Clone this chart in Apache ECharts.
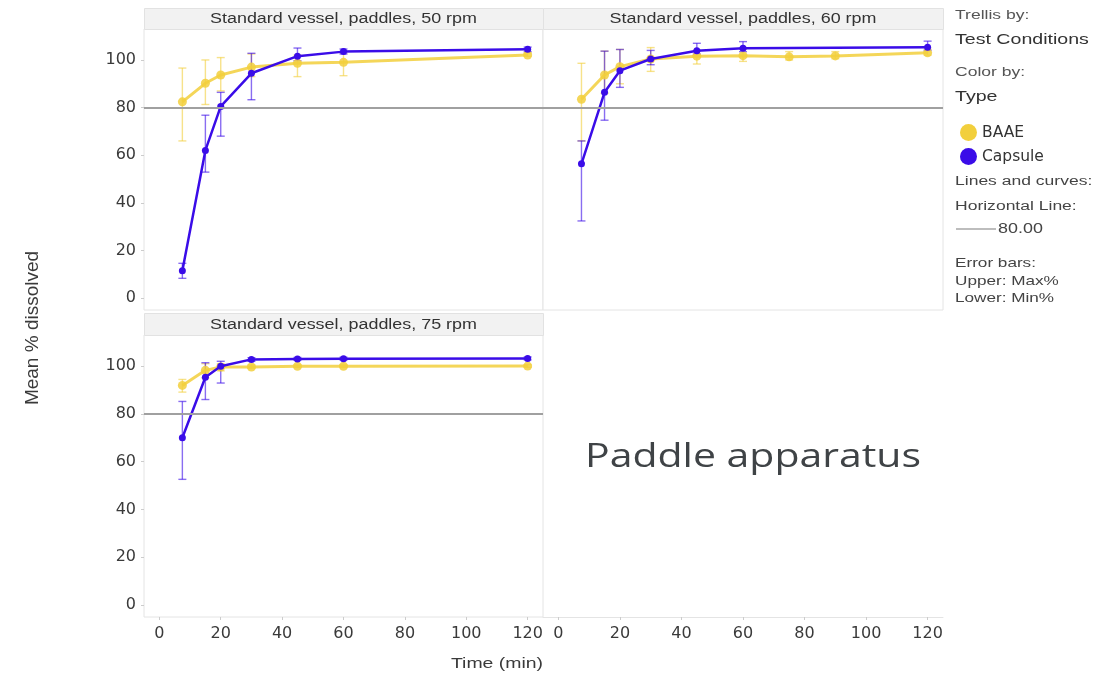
<!DOCTYPE html>
<html>
<head>
<meta charset="utf-8">
<title>Paddle apparatus</title>
<script src="https://cdn.jsdelivr.net/npm/echarts@6/dist/echarts.min.js"></script>
<style>
  html, body { margin: 0; padding: 0; background: #fff; }
  #main { width: 1099px; height: 677px; }
</style>
</head>
<body>
<div id="main"></div>
<script>
  // panel titles (trellis by test conditions)
  var panelTitles = ['Standard vessel, paddles, 50 rpm', 'Standard vessel, paddles, 60 rpm', 'Standard vessel, paddles, 75 rpm'];
  var xTicks = [0, 20, 40, 60, 80, 100, 120];
  var yTicks = [0, 20, 40, 60, 80, 100];
  var refLine = 80;

  // 50 rpm
  var baaeTime50 = [7.5, 15, 20, 30, 45, 60, 120];
  var baae50 = [82.4, 90.2, 93.7, 97, 98.6, 99, 102.1];
  var baae50Max = [96.6, 100, 101, 102.5, 102, 103, 103];
  var baae50Min = [66, 81.3, 87, 93, 93, 93.4, 101.5];
  var capsTime50 = [7.5, 15, 20, 30, 45, 60, 120];
  var caps50 = [11.5, 62, 80.5, 94.4, 101.6, 103.5, 104.5];
  var caps50Max = [14.6, 76.8, 86.4, 102.8, 105, 104.6, 105.4];
  var caps50Min = [8.3, 52.9, 68, 83.3, 99.7, 102.5, 103.5];

  // 60 rpm
  var baaeTime60 = [7.5, 15, 20, 30, 45, 60, 75, 90, 120];
  var baae60 = [83.5, 93.7, 97.2, 100.4, 101.6, 101.8, 101.3, 101.7, 103];
  var baae60Max = [98.6, 103.7, 104.4, 105.2, 104, 104.5, 103.5, 103.5, 104.5];
  var baae60Min = [66, 86, 90, 95.2, 98.3, 99.4, 100, 100.5, 102];
  var capsTime60 = [7.5, 15, 20, 30, 45, 60, 120];
  var caps60 = [56.4, 86.4, 95.5, 100.4, 103.9, 104.9, 105.3];
  var caps60Max = [66, 103.7, 104.4, 104, 107, 107.7, 107.9];
  var caps60Min = [32.4, 74.7, 88.5, 98, 102.5, 103.5, 104];

  // 75 rpm
  var baaeTime75 = [7.5, 15, 20, 30, 45, 60, 120];
  var baae75 = [91.9, 98.2, 99.6, 99.6, 99.9, 99.9, 100];
  var baae75Max = [94.4, 101, 101, 100.5, 100.5, 100.5, 100.6];
  var baae75Min = [89.1, 95, 98, 99, 99.4, 99.4, 99.5];
  var capsTime75 = [7.5, 15, 20, 30, 45, 60, 120];
  var caps75 = [70, 95.3, 99.9, 102.8, 103, 103.1, 103.2];
  var caps75Max = [85.2, 101.4, 102, 103.5, 103.6, 103.7, 103.8];
  var caps75Min = [52.6, 86, 92.9, 102, 102.4, 102.5, 102.6];

  var YELLOW = '#f2cf3c';
  var BLUE = '#3a0ce8';
  var FONT = 'DejaVu Sans';
  var SX = 1.28; // the source picture is stretched sideways

  function zip(t, v) {
    return t.map(function (x, i) { return [x, v[i]]; });
  }
  function zipErr(t, lo, hi) {
    return t.map(function (x, i) { return [x, lo[i], hi[i]]; });
  }

  // error bar: vertical line with small caps
  function errorItem(color) {
    return function (params, api) {
      var x = api.value(0);
      var lo = api.coord([x, api.value(1)]);
      var hi = api.coord([x, api.value(2)]);
      var w = 4;
      var st = { stroke: color, lineWidth: 1.4, opacity: 0.6 };
      return {
        type: 'group',
        children: [
          { type: 'line', shape: { x1: lo[0], y1: lo[1], x2: hi[0], y2: hi[1] }, style: st },
          { type: 'line', shape: { x1: lo[0] - w, y1: lo[1], x2: lo[0] + w, y2: lo[1] }, style: st },
          { type: 'line', shape: { x1: hi[0] - w, y1: hi[1], x2: hi[0] + w, y2: hi[1] }, style: st }
        ]
      };
    };
  }

  function panelSeries(idx, bT, b, bMin, bMax, cT, c, cMin, cMax) {
    return [
      {
        type: 'custom', name: 'BAAE', xAxisIndex: idx, yAxisIndex: idx,
        renderItem: errorItem(YELLOW), data: zipErr(bT, bMin, bMax),
        encode: { x: 0, y: [1, 2] }, itemStyle: { color: YELLOW }, z: 1, silent: true
      },
      {
        type: 'custom', name: 'Capsule', xAxisIndex: idx, yAxisIndex: idx,
        renderItem: errorItem(BLUE), data: zipErr(cT, cMin, cMax),
        encode: { x: 0, y: [1, 2] }, itemStyle: { color: BLUE }, z: 1, silent: true
      },
      {
        type: 'line', name: 'BAAE', xAxisIndex: idx, yAxisIndex: idx,
        data: zip(bT, b), symbol: 'circle', symbolSize: 9,
        lineStyle: { color: YELLOW, width: 3, opacity: 0.85 },
        itemStyle: { color: YELLOW, opacity: 0.85 }, z: 3,
        markLine: {
          silent: true, symbol: 'none', label: { show: false },
          lineStyle: { color: '#a0a0a0', width: 2, type: 'solid' },
          data: [{ yAxis: refLine }]
        }
      },
      {
        type: 'line', name: 'Capsule', xAxisIndex: idx, yAxisIndex: idx,
        data: zip(cT, c), symbol: 'circle', symbolSize: 7,
        lineStyle: { color: BLUE, width: 2.5 },
        itemStyle: { color: BLUE }, z: 4
      }
    ];
  }

  function xAxis(idx, showLabels) {
    return {
      type: 'value', gridIndex: idx, min: -5, max: 125,
      axisLine: { show: idx === 3, onZero: false, lineStyle: { color: '#e4e4e4' } },
      splitLine: { show: false },
      axisTick: { show: showLabels, length: 3, customValues: xTicks, lineStyle: { color: '#cccccc' } },
      axisLabel: { show: showLabels, customValues: xTicks, margin: 9, color: '#3a3a3a', fontFamily: FONT, fontSize: 16 }
    };
  }
  function yAxis(idx, showLabels, visible) {
    return {
      type: 'value', gridIndex: idx, min: -5, max: 113, show: visible !== false,
      axisLine: { show: false, onZero: false },
      splitLine: { show: false },
      axisTick: { show: showLabels, length: 3, customValues: yTicks, lineStyle: { color: '#cccccc' } },
      axisLabel: { show: showLabels, customValues: yTicks, margin: 8, color: '#3a3a3a', fontFamily: FONT, fontSize: 16 }
    };
  }

  var gridStyle = { show: true, borderColor: '#e4e4e4', borderWidth: 1, backgroundColor: '#fff' };

  var strips = [
    { x: 144, y: 8, w: 399, h: 21 },
    { x: 543, y: 8, w: 400, h: 21 },
    { x: 144, y: 313, w: 399, h: 22 }
  ];
  var graphics = [];
  strips.forEach(function (s, i) {
    graphics.push({
      type: 'rect', left: s.x, top: s.y, silent: true,
      shape: { width: s.w, height: s.h },
      style: { fill: '#f2f2f2', stroke: '#e2e2e2', lineWidth: 1 }
    });
    graphics.push({
      type: 'text', x: s.x + s.w / 2, y: s.y + s.h / 2 + 1, scaleX: SX, silent: true,
      style: { text: panelTitles[i], fill: '#333', font: '14px "Liberation Sans"', align: 'center', verticalAlign: 'middle' }
    });
  });

  // side legend texts
  var sideText = [
    { t: 'Trellis by:', y: 15, s: 13.7, c: '#555' },
    { t: 'Test Conditions', y: 40, s: 15.3, c: '#333' },
    { t: 'Color by:', y: 72, s: 13.7, c: '#555' },
    { t: 'Type', y: 97, s: 15.3, c: '#333' },
    { t: 'Lines and curves:', y: 181, s: 13.7, c: '#444' },
    { t: 'Horizontal Line:', y: 206, s: 13.7, c: '#444' },
    { t: 'Error bars:', y: 263, s: 13.4, c: '#444' },
    { t: 'Upper: Max%', y: 281, s: 13.4, c: '#444' },
    { t: 'Lower: Min%', y: 298, s: 13.4, c: '#444' }
  ];
  sideText.forEach(function (d) {
    graphics.push({
      type: 'text', x: 955, y: d.y, scaleX: SX, silent: true,
      style: { text: d.t, fill: d.c, font: d.s + 'px "Liberation Sans"', verticalAlign: 'middle' }
    });
  });
  graphics.push({
    type: 'line', silent: true,
    shape: { x1: 956, y1: 229, x2: 996, y2: 229 },
    style: { stroke: '#bdbdbd', lineWidth: 2 }
  });
  graphics.push({
    type: 'text', x: 998, y: 229, scaleX: SX, silent: true,
    style: { text: refLine.toFixed(2), fill: '#444', font: '14px "Liberation Sans"', verticalAlign: 'middle' }
  });
  // axis names
  graphics.push({
    type: 'text', x: 33, y: 328, rotation: Math.PI / 2, silent: true,
    style: { text: 'Mean % dissolved', fill: '#3a3a3a', font: '19px "Liberation Sans"', align: 'center', verticalAlign: 'middle' }
  });
  graphics.push({
    type: 'text', x: 497, y: 664, scaleX: SX, silent: true,
    style: { text: 'Time (min)', fill: '#3a3a3a', font: '15.2px "Liberation Sans"', align: 'center', verticalAlign: 'middle' }
  });
  graphics.push({
    type: 'text', x: 753, y: 458, scaleX: SX, silent: true,
    style: { text: 'Paddle apparatus', fill: '#3f4346', font: '32px "Open Sans"', align: 'center', verticalAlign: 'middle' }
  });

  var option = {
    animation: false,
    backgroundColor: '#fff',
    legend: {
      data: ['BAAE', 'Capsule'],
      orient: 'vertical', left: 955, top: 119,
      icon: 'circle', itemWidth: 17, itemHeight: 17, itemGap: 7,
      textStyle: { fontFamily: FONT, fontSize: 15.5, color: '#333' },
      selectedMode: false
    },
    grid: [
      Object.assign({ left: 144, top: 29, width: 399, height: 281 }, gridStyle),
      Object.assign({ left: 543, top: 29, width: 400, height: 281 }, gridStyle),
      Object.assign({ left: 144, top: 335, width: 399, height: 282 }, gridStyle),
      { left: 543, top: 335, width: 400, height: 282, show: false }
    ],
    xAxis: [xAxis(0, false), xAxis(1, false), xAxis(2, true), xAxis(3, true)],
    yAxis: [yAxis(0, true), yAxis(1, false), yAxis(2, true), yAxis(3, false, false)],
    graphic: graphics,
    series: [].concat(
      panelSeries(0, baaeTime50, baae50, baae50Min, baae50Max, capsTime50, caps50, caps50Min, caps50Max),
      panelSeries(1, baaeTime60, baae60, baae60Min, baae60Max, capsTime60, caps60, caps60Min, caps60Max),
      panelSeries(2, baaeTime75, baae75, baae75Min, baae75Max, capsTime75, caps75, caps75Min, caps75Max)
    )
  };

  var chart = echarts.init(document.getElementById('main'));
  chart.setOption(option);
</script>
</body>
</html>
